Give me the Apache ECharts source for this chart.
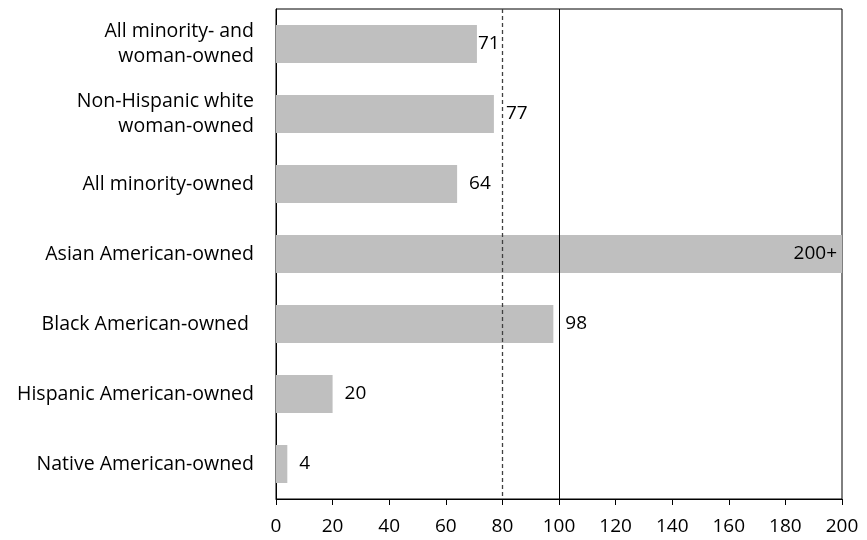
<!DOCTYPE html>
<html><head><meta charset="utf-8">
<script src="https://cdn.jsdelivr.net/npm/echarts@6/dist/echarts.min.js"></script>
<style>html,body{margin:0;padding:0;background:#fff}#c{width:867px;height:540px}</style>
</head><body><div id="c"></div>
<script>
const categories = ["All minority- and\nwoman-owned","Non-Hispanic white\nwoman-owned","All minority-owned","Asian American-owned","Black American-owned ","Hispanic American-owned","Native American-owned"];
const values = [71,77,64,200,98,20,4];
const valueLabels = ["71","77","64","200+","98","20","4"];
const xTicks = [0,20,40,60,80,100,120,140,160,180,200];
const refLines = [80,100];

const font = "'Open Sans', Lato, sans-serif";
const chart = echarts.init(document.getElementById('c'));
const data = values.map((v,i)=>{
  const item = {value:v};
  if (valueLabels[i].endsWith('+')) item.label = {position:'insideRight', distance:5};
  else if (i===0) item.label = {distance:1};
  return item;
});
chart.setOption({
  animation:false,
  grid:{left:276,right:25,top:9,bottom:41,show:true,borderColor:'#000',borderWidth:1},
  xAxis:{type:'value',min:xTicks[0],max:xTicks[xTicks.length-1],interval:20,
    axisLine:{show:true,lineStyle:{color:'#000'}},
    axisTick:{show:true,length:6,lineStyle:{color:'#000'}},
    splitLine:{show:false},
    axisLabel:{color:'#000',fontSize:19,fontFamily:font,margin:18}},
  yAxis:{type:'category',data:categories,inverse:true,
    axisLine:{show:true,lineStyle:{color:'#000'}},
    axisTick:{show:false},
    axisLabel:{color:'#000',fontSize:19.5,fontFamily:font,margin:22,lineHeight:25,align:'right'}},
  series:[{type:'bar',data:data,barWidth:38,
    itemStyle:{color:'#bfbfbf'},
    label:{show:true,position:'right',distance:12,color:'#000',fontSize:19,fontFamily:font,
      formatter:p=>valueLabels[p.dataIndex]},
    markLine:{silent:true,symbol:'none',label:{show:false},
      data:[{xAxis:refLines[0],lineStyle:{type:[4,3],color:'#404040',width:1.3}},
            {xAxis:refLines[1],lineStyle:{type:'solid',color:'#000',width:1}}]}
  }]
});
</script></body></html>
